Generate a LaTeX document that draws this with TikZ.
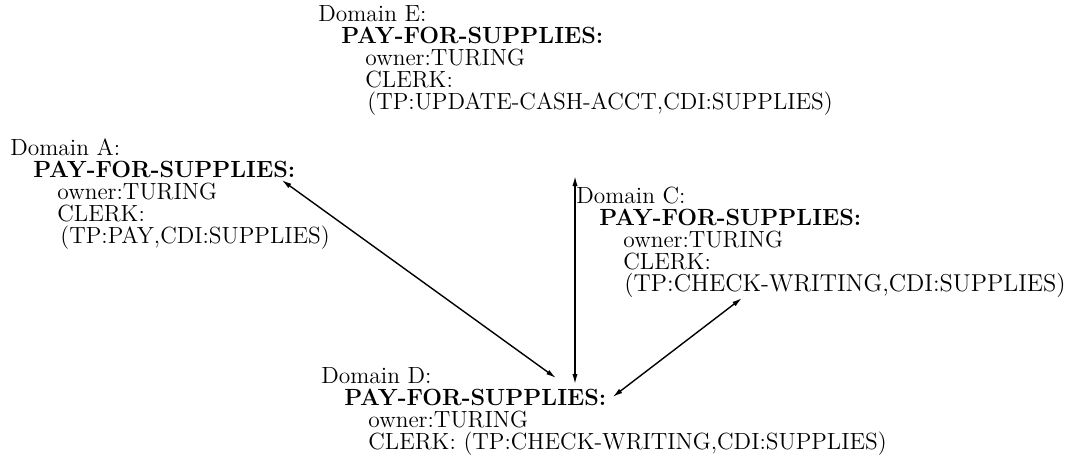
\documentclass[tikz,border=0pt]{standalone}
\usetikzlibrary{arrows.meta,calc}
\begin{document}
\begin{tikzpicture}[x=0.5pt,y=-0.5pt,
  txt/.style={anchor=base west,inner sep=0pt,font=\fontsize{11.7}{12}\selectfont},
  wide/.style={anchor=base west,inner sep=0pt,font=\fontsize{12.2}{12}\selectfont},
  hd/.style={txt,font=\fontsize{11.7}{12}\selectfont\bfseries},
  link/.style={{Latex[length=5pt,width=2.6pt]}-{Latex[length=5pt,width=2.6pt]},line width=0.7pt}]
\useasboundingbox (0,0) rectangle (1076,468);

% Domain E
\node[txt] (eDom) at (318,21)  {Domain E:};
\node[hd]  (ePay) at (341,43)  {PAY-FOR-SUPPLIES:};
\node[txt] (eOwn) at (365,65)  {owner:TURING};
\node[txt] (eClk) at (365,87)  {CLERK:};
\node[txt] (eTp)  at (367,109) {(TP:UPDATE-CASH-ACCT,CDI:SUPPLIES)};

% Domain A
\node[txt] (aDom) at (10,155)  {Domain A:};
\node[hd]  (aPay) at (33,177)  {PAY-FOR-SUPPLIES:};
\node[txt] (aOwn) at (57,199)  {owner:TURING};
\node[txt] (aClk) at (57,221)  {CLERK:};
\node[txt] (aTp)  at (60,243)  {(TP:PAY,CDI:SUPPLIES)};

% Domain C
\node[txt]  (cDom) at (576,203) {Domain C:};
\node[hd]   (cPay) at (599,225) {PAY-FOR-SUPPLIES:};
\node[txt]  (cOwn) at (623,247) {owner:TURING};
\node[txt]  (cClk) at (623,269) {CLERK:};
\node[wide] (cTp)  at (624,291) {(TP:CHECK-WRITING,CDI:SUPPLIES)};

% Domain D
\node[txt] (dDom) at (321,383) {Domain D:};
\node[hd]  (dPay) at (344,405) {PAY-FOR-SUPPLIES:};
\node[txt] (dOwn) at (368,427) {owner:TURING};
\node[txt] (dClk) at (368,449) {CLERK: (TP:CHECK-WRITING,CDI:SUPPLIES)};

% arrow ends
\coordinate (aTip)  at ($(aPay.base east)+(-14,3)$);
\coordinate (dTipA) at ($(dPay.base west)+(212,-27)$);
\coordinate (eTip)  at ($(eTp.base west)+(208,67)$);
\coordinate (dTipE) at ($(dPay.base west)+(231,-21)$);
\coordinate (cTip)  at ($(cTp.base west)+(118,7)$);
\coordinate (dTipC) at ($(dPay.base east)+(6,-8)$);

\draw[link] (aTip) -- (dTipA);
\draw[link] (eTip) -- (dTipE);
\draw[link] (cTip) -- (dTipC);
\end{tikzpicture}
\end{document}
